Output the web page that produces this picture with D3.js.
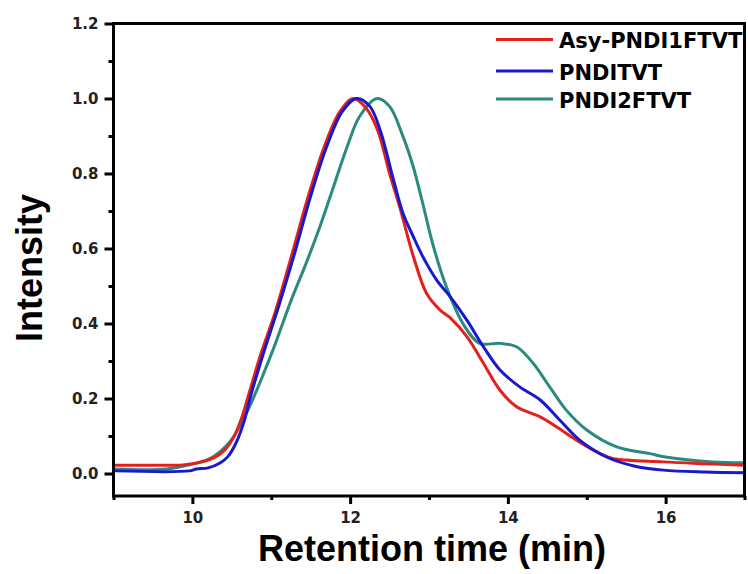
<!DOCTYPE html>
<html>
<head>
<meta charset="utf-8">
<script src="https://cdn.jsdelivr.net/npm/d3@7"></script>
<style>
  body { margin: 0; background: #fff; }
</style>
</head>
<body>
<script>
// series data (time in min, normalised intensity)
let redTime = [9, 9.5, 9.88, 10.1, 10.3, 10.42, 10.52, 10.62, 10.72, 10.87, 11.05, 11.27, 11.47, 11.67, 11.87, 12.04, 12.2, 12.35, 12.5, 12.63, 12.8, 12.97, 13.14, 13.27, 13.48, 13.69, 13.9, 14.11, 14.41, 14.62, 14.87, 15.17, 15.33, 15.97, 16.5, 17];
let redVal  = [0.022, 0.022, 0.023, 0.03, 0.045, 0.065, 0.095, 0.145, 0.215, 0.32, 0.43, 0.59, 0.74, 0.87, 0.965, 1.0, 0.975, 0.915, 0.8, 0.71, 0.58, 0.48, 0.436, 0.415, 0.365, 0.294, 0.222, 0.178, 0.151, 0.124, 0.089, 0.053, 0.04, 0.031, 0.026, 0.022];

let blueTime = [9, 9.96, 10.05, 10.2, 10.35, 10.45, 10.55, 10.65, 10.75, 10.9, 11.1, 11.3, 11.5, 11.7, 11.9, 12.08, 12.25, 12.38, 12.55, 12.67, 12.8, 12.93, 13.1, 13.27, 13.48, 13.69, 13.9, 14.15, 14.41, 14.66, 14.91, 15.25, 15.6, 15.97, 16.5, 17];
let blueVal  = [0.007, 0.007, 0.012, 0.015, 0.028, 0.045, 0.08, 0.135, 0.215, 0.32, 0.45, 0.59, 0.74, 0.87, 0.965, 1.0, 0.979, 0.916, 0.783, 0.694, 0.632, 0.575, 0.515, 0.471, 0.409, 0.338, 0.276, 0.231, 0.196, 0.142, 0.089, 0.044, 0.02, 0.009, 0.004, 0.002];

let greenTime = [9, 9.67, 10.0, 10.17, 10.26, 10.45, 10.6, 10.75, 10.9, 11.05, 11.24, 11.45, 11.62, 11.79, 11.96, 12.12, 12.34, 12.5, 12.67, 12.8, 12.93, 13.05, 13.22, 13.43, 13.64, 13.9, 14.11, 14.32, 14.53, 14.74, 15.0, 15.38, 15.8, 16.0, 16.6, 17];
let greenVal  = [0.012, 0.012, 0.025, 0.035, 0.044, 0.078, 0.125, 0.19, 0.265, 0.345, 0.455, 0.565, 0.66, 0.765, 0.87, 0.952, 1.0, 0.979, 0.899, 0.818, 0.712, 0.61, 0.498, 0.4, 0.347, 0.347, 0.338, 0.294, 0.231, 0.169, 0.116, 0.071, 0.053, 0.044, 0.031, 0.029];

let seriesNames = ["Asy-PNDI1FTVT", "PNDITVT", "PNDI2FTVT"];
let seriesColors = ["#e3201c", "#1818cc", "#2a8a80"];

let xMajor = [10, 12, 14, 16];
let xMinor = [9, 11, 13, 15, 17];
let yMajor = [0, 0.2, 0.4, 0.6, 0.8, 1.0, 1.2];
let yMinor = [0.1, 0.3, 0.5, 0.7, 0.9, 1.1];

let svgWidth = 748;
let svgHeight = 574;
let plotLeft = 113.5, plotRight = 744.5, plotTop = 23.5, plotBottom = 496;

let series = [
  { name: seriesNames[0], color: seriesColors[0], pts: d3.zip(redTime, redVal) },
  { name: seriesNames[1], color: seriesColors[1], pts: d3.zip(blueTime, blueVal) },
  { name: seriesNames[2], color: seriesColors[2], pts: d3.zip(greenTime, greenVal) }
];

const svg = d3.select("body")
  .append("svg")
  .attr("width", svgWidth)
  .attr("height", svgHeight);

let x = d3.scaleLinear().domain([9, 17]).range([plotLeft, plotRight]);
let y = d3.scaleLinear().domain([-0.06, 1.2]).range([plotBottom, plotTop]);

svg.append("clipPath")
  .attr("id", "plot")
  .append("rect")
  .attr("x", plotLeft)
  .attr("y", plotTop)
  .attr("width", plotRight - plotLeft)
  .attr("height", plotBottom - plotTop);

let line = d3.line()
  .x(function(d) { return x(d[0]); })
  .y(function(d) { return y(d[1]); })
  .curve(d3.curveCatmullRom.alpha(0.5));

// draw green first so red/blue sit on top at the baseline like the original
svg.append("g")
  .attr("clip-path", "url(#plot)")
  .selectAll("path")
  .data([series[2], series[0], series[1]])
  .enter()
  .append("path")
  .attr("d", function(d) { return line(d.pts); })
  .attr("fill", "none")
  .attr("stroke", function(d) { return d.color; })
  .attr("stroke-width", 3)
  .attr("stroke-linejoin", "round");

// axes
let tickFont = "'DejaVu Sans', Verdana, sans-serif";

svg.append("g")
  .attr("transform", "translate(0," + plotBottom + ")")
  .call(d3.axisBottom(x).tickValues(xMajor).tickSize(8).tickPadding(8).tickFormat(d3.format("d")));
svg.append("g")
  .attr("transform", "translate(0," + plotBottom + ")")
  .call(d3.axisBottom(x).tickValues(xMinor).tickSize(4).tickFormat(""));

svg.append("g")
  .attr("transform", "translate(" + plotLeft + ",0)")
  .call(d3.axisLeft(y).tickValues(yMajor).tickSize(9).tickPadding(6).tickFormat(d3.format(".1f")));
svg.append("g")
  .attr("transform", "translate(" + plotLeft + ",0)")
  .call(d3.axisLeft(y).tickValues(yMinor).tickSize(5).tickFormat(""));

svg.selectAll(".domain").remove();
svg.selectAll(".tick line")
  .attr("stroke", "#000")
  .attr("stroke-width", 3);
svg.selectAll(".tick text")
  .attr("font-family", tickFont)
  .attr("font-weight", "bold")
  .attr("font-size", "15px")
  .attr("fill", "#222");

// frame
svg.append("rect")
  .attr("x", plotLeft)
  .attr("y", plotTop)
  .attr("width", plotRight - plotLeft)
  .attr("height", plotBottom - plotTop)
  .attr("fill", "none")
  .attr("stroke", "#000")
  .attr("stroke-width", 3);

// axis titles
svg.append("text")
  .text("Retention time (min)")
  .attr("x", 432)
  .attr("y", 561)
  .attr("text-anchor", "middle")
  .attr("font-family", "'Liberation Sans', Arial, sans-serif")
  .attr("font-weight", "bold")
  .attr("font-size", "36px")
  .attr("fill", "#000");

svg.append("text")
  .text("Intensity")
  .attr("transform", "translate(42,268) rotate(-90)")
  .attr("text-anchor", "middle")
  .attr("font-family", "'Liberation Sans', Arial, sans-serif")
  .attr("font-weight", "bold")
  .attr("font-size", "36px")
  .attr("fill", "#000");

// legend
let legendY = [39.5, 71, 99];

let legend = svg.selectAll(".legend")
  .data(series)
  .enter()
  .append("g")
  .attr("class", "legend")
  .attr("transform", function(d, i) { return "translate(0," + legendY[i] + ")"; });

legend.append("line")
  .attr("x1", 496)
  .attr("x2", 553)
  .attr("y1", 0)
  .attr("y2", 0)
  .attr("stroke", function(d) { return d.color; })
  .attr("stroke-width", 3);

legend.append("text")
  .text(function(d) { return d.name; })
  .attr("x", 559)
  .attr("y", 8.5)
  .attr("font-family", tickFont)
  .attr("font-weight", "bold")
  .attr("font-size", "21px")
  .attr("fill", "#000");
</script>
</body>
</html>
